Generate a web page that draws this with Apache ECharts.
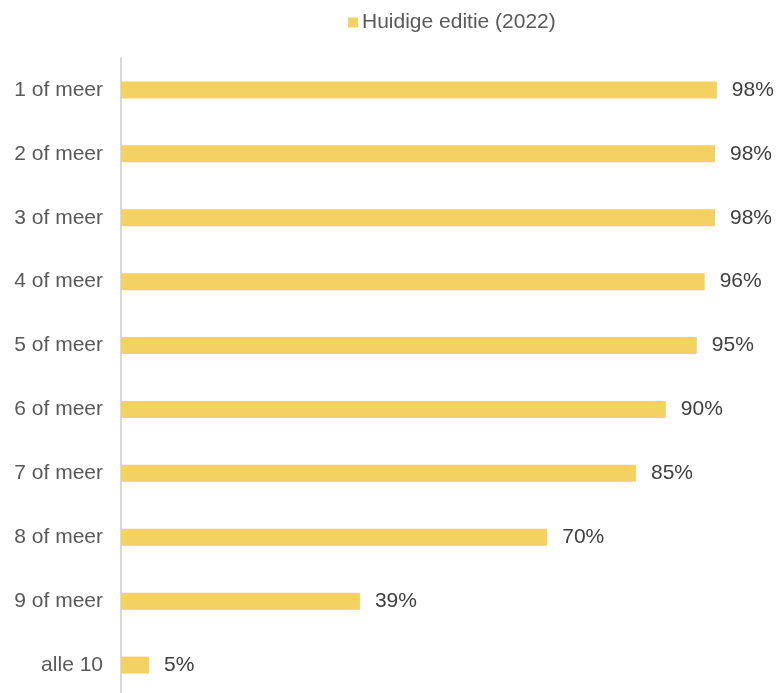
<!DOCTYPE html>
<html><head><meta charset="utf-8">
<script src="https://cdn.jsdelivr.net/npm/echarts@6/dist/echarts.min.js"></script>
<style>html,body{margin:0;padding:0;background:#fff;overflow:hidden}#c{width:779px;height:697px}</style>
</head><body><div id="c"></div>
<script>
const categories = ["1 of meer","2 of meer","3 of meer","4 of meer","5 of meer","6 of meer","7 of meer","8 of meer","9 of meer","alle 10"];
const seriesName = "Huidige editie (2022)";
const values = [98.0, 97.7, 97.7, 96.0, 94.7, 89.6, 84.7, 70.1, 39.3, 4.6];

const chart = echarts.init(document.getElementById('c'), null, {renderer:'canvas'});
const font = 'Liberation Sans, Arial, sans-serif';
chart.setOption({
  animation:false,
  backgroundColor:'#fff',
  textStyle:{fontFamily:font},
  legend:{
    data:[seriesName], left:343, top:7, itemWidth:10, itemHeight:10, itemGap:4,
    icon:'rect',
    textStyle:{fontFamily:font, fontSize:21, color:'#595959', padding:[0,0,0,-1]}
  },
  grid:{left:121, top:58, width:608, height:639, containLabel:false},
  xAxis:{type:'value', min:0, max:100, show:false},
  yAxis:{
    type:'category', data:categories, inverse:true,
    axisLine:{show:true, lineStyle:{color:'#D9D9D9', width:2}},
    axisTick:{show:false},
    axisLabel:{fontFamily:font, fontSize:21, color:'#595959', margin:18}
  },
  series:[{
    name:seriesName, type:'bar', data:values, barWidth:17,
    itemStyle:{color:'#F3D162'},
    label:{show:true, position:'right', distance:15, fontFamily:font, fontSize:21, color:'#404040',
      formatter:p=>Math.round(p.value)+'%'}
  }]
});
</script></body></html>
